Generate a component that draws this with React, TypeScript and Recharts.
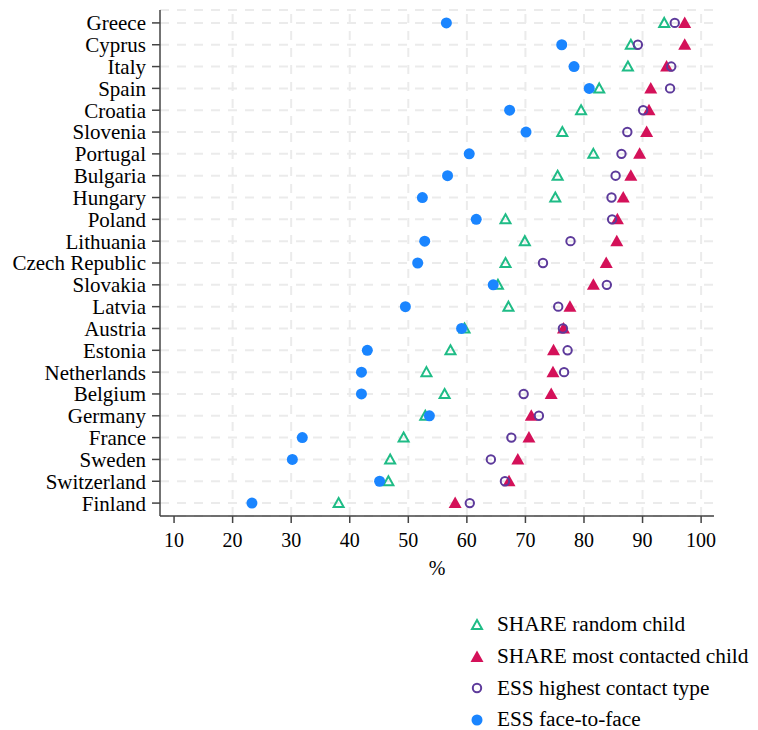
import React from 'react';
import { ScatterChart, Scatter, XAxis, YAxis, CartesianGrid, ReferenceLine } from 'recharts';

const countries = [
    'Greece', 'Cyprus', 'Italy', 'Spain', 'Croatia', 'Slovenia', 'Portugal', 'Bulgaria',
    'Hungary', 'Poland', 'Lithuania', 'Czech Republic', 'Slovakia', 'Latvia', 'Austria',
    'Estonia', 'Netherlands', 'Belgium', 'Germany', 'France', 'Sweden', 'Switzerland', 'Finland',
];

const shareRandom = [93.7, 88.0, 87.5, 82.6, 79.5, 76.3, 81.6, 75.5, 75.1, 66.6, 69.9, 66.6, 65.3, 67.1, 59.6, 57.2, 53.1, 56.2, 52.9, 49.2, 46.9, 46.6, 38.1];
const shareMost = [97.2, 97.2, 94.1, 91.4, 91.1, 90.7, 89.5, 88.0, 86.7, 85.7, 85.6, 83.8, 81.6, 77.6, 76.5, 74.8, 74.7, 74.4, 71.0, 70.6, 68.7, 67.2, 58.0];
const essHighest = [95.5, 89.2, 94.9, 94.7, 90.1, 87.4, 86.4, 85.4, 84.7, 84.8, 77.7, 73.0, 83.9, 75.6, 76.4, 77.2, 76.6, 69.7, 72.3, 67.6, 64.1, 66.5, 60.5];
const essFace = [56.5, 76.2, 78.3, 80.9, 67.3, 70.1, 60.4, 56.7, 52.4, 61.6, 52.8, 51.6, 64.5, 49.5, 59.1, 43.0, 42.0, 42.0, 53.6, 31.9, 30.2, 45.1, 23.3];

const xTicks = [10, 20, 30, 40, 50, 60, 70, 80, 90, 100];

const GREEN = '#1FBC86';
const RED = '#D41159';
const PURPLE = '#5D3A9B';
const BLUE = '#1A85FF';
const GRID = '#EBEBEB';
const FONT = '"Liberation Serif", "Times New Roman", serif';

const toRows = (vals: number[]) => countries.map((c, i) => ({ country: c, value: vals[i] }));

// marker shapes
const HollowTriangle = ({ cx, cy, color }: any) => (
    <path d={`M${cx},${cy - 5} L${cx + 5},${cy + 4} L${cx - 5},${cy + 4} Z`} fill="none" stroke={color} strokeWidth={2} strokeLinejoin="miter" />
);
const FilledTriangle = ({ cx, cy, color }: any) => (
    <path d={`M${cx},${cy - 6.5} L${cx + 6.5},${cy + 5} L${cx - 6.5},${cy + 5} Z`} fill={color} />
);
const HollowCircle = ({ cx, cy, color }: any) => (
    <circle cx={cx} cy={cy} r={4.2} fill="none" stroke={color} strokeWidth={2} />
);
const FilledCircle = ({ cx, cy, color }: any) => (
    <circle cx={cx} cy={cy} r={5.5} fill={color} />
);

const series = [
    { name: 'SHARE random child', values: shareRandom, color: GREEN, Shape: HollowTriangle },
    { name: 'SHARE most contacted child', values: shareMost, color: RED, Shape: FilledTriangle },
    { name: 'ESS highest contact type', values: essHighest, color: PURPLE, Shape: HollowCircle },
    { name: 'ESS face-to-face', values: essFace, color: BLUE, Shape: FilledCircle },
];

const LegendBox = () => (
    <div style={{ position: 'absolute', left: 461, top: 601, fontFamily: FONT, fontSize: 21.3, color: '#000' }}>
        {series.map((s) => (
            <div key={s.name} style={{ height: 31.7, display: 'flex', alignItems: 'center' }}>
                <svg width={16} height={16}>
                    <s.Shape cx={8} cy={8} color={s.color} />
                </svg>
                <span style={{ marginLeft: 12, whiteSpace: 'nowrap' }}>{s.name}</span>
            </div>
        ))}
    </div>
);

export default function App() {
    return (
        <div style={{ position: 'relative', width: 750, height: 722 }}>
            <ScatterChart width={750} height={580} margin={{ top: 2, right: 44, left: 0, bottom: 2 }}>
                <CartesianGrid vertical={false} stroke={GRID} strokeWidth={2} strokeDasharray="9 8" />
                {xTicks.filter((t) => t > 10).map((t) => (
                    <ReferenceLine key={t} x={t} stroke={GRID} strokeWidth={2} strokeDasharray="9 8" />
                ))}
                <XAxis
                    type="number"
                    dataKey="value"
                    domain={[7.6, 102.2]}
                    ticks={xTicks}
                    interval={0}
                    height={70}
                    tickSize={7}
                    tickMargin={10}
                    axisLine={{ stroke: '#444', strokeWidth: 1.5 }}
                    tickLine={{ stroke: '#444', strokeWidth: 1.5 }}
                    tick={{ fill: '#000', fontFamily: FONT, fontSize: 20 }}
                    label={{ value: '%', position: 'insideBottom', offset: 11, fill: '#000', fontFamily: FONT, fontSize: 20 }}
                />
                <YAxis
                    type="category"
                    dataKey="country"
                    allowDuplicatedCategory={false}
                    reversed
                    width={152}
                    padding={{ top: 2, bottom: 2 }}
                    interval={0}
                    tickSize={8}
                    tickMargin={6}
                    axisLine={{ stroke: '#444', strokeWidth: 1.5 }}
                    tickLine={{ stroke: '#444', strokeWidth: 1.5 }}
                    tick={{ fill: '#000', fontFamily: FONT, fontSize: 21 }}
                />
                {series.map((s) => (
                    <Scatter
                        key={s.name}
                        name={s.name}
                        data={toRows(s.values)}
                        fill={s.color}
                        isAnimationActive={false}
                        shape={(p: any) => <s.Shape cx={p.cx} cy={p.cy} color={s.color} />}
                    />
                ))}
            </ScatterChart>
            <LegendBox />
        </div>
    );
}
